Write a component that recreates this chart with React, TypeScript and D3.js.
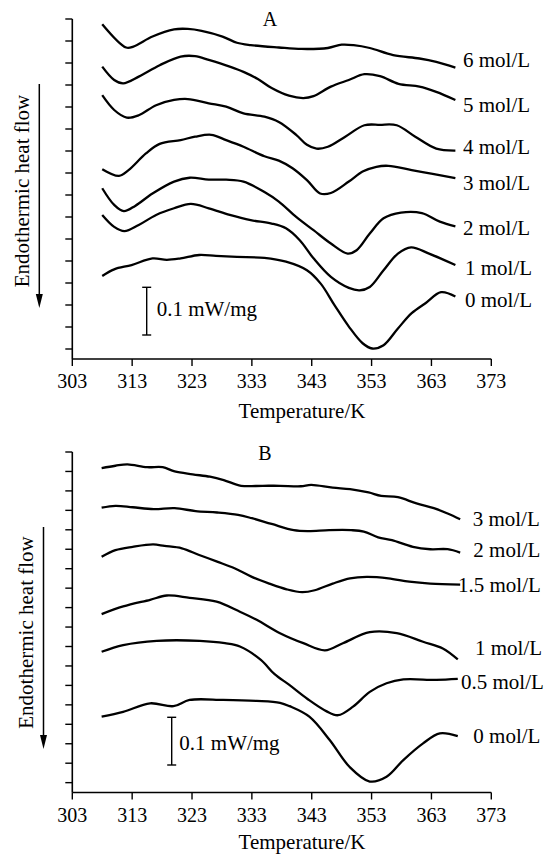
import React from "react";
import * as d3 from "d3";

type P = [number, number];

// ---------- Panel A data (Temperature K, heat flow mW/mg offset) ----------
const a6: P[] = [[308.0,0.702],[312.0,0.653],[313.2,0.655],[316.4,0.676],[320.0,0.691],[322.3,0.692],[324.6,0.688],[328.1,0.676],[330.5,0.663],[332.8,0.658],[337.5,0.653],[341.3,0.650],[345.7,0.652],[348.0,0.659],[350.0,0.658],[352.7,0.652],[356.6,0.637],[361.0,0.630],[363.8,0.623],[367.0,0.611]];
const a5: P[] = [[308.0,0.613],[310.0,0.585],[311.5,0.578],[314.1,0.592],[317.6,0.616],[321.1,0.634],[323.5,0.635],[325.8,0.627],[329.3,0.613],[331.6,0.602],[334.0,0.587],[336.3,0.568],[339.2,0.552],[341.6,0.547],[343.3,0.551],[346.2,0.571],[349.2,0.585],[351.8,0.597],[354.4,0.593],[357.5,0.577],[361.0,0.571],[363.8,0.560],[367.0,0.543]];
const a4: P[] = [[308.0,0.553],[310.0,0.522],[312.1,0.506],[314.1,0.511],[317.0,0.532],[320.0,0.543],[322.3,0.545],[325.8,0.536],[328.7,0.529],[331.6,0.515],[335.1,0.508],[337.5,0.497],[340.4,0.470],[342.2,0.449],[343.8,0.441],[345.7,0.445],[348.6,0.466],[351.8,0.490],[354.4,0.491],[357.2,0.490],[360.3,0.466],[363.8,0.441],[367.0,0.437]];
const a3: P[] = [[308.0,0.398],[310.8,0.384],[312.4,0.396],[315.3,0.431],[317.6,0.451],[321.1,0.459],[323.5,0.466],[326.2,0.470],[328.7,0.459],[331.6,0.445],[335.1,0.425],[337.5,0.416],[339.8,0.400],[342.2,0.375],[344.4,0.347],[346.2,0.348],[349.2,0.372],[351.5,0.393],[353.8,0.403],[355.8,0.405],[359.7,0.396],[363.2,0.388],[367.0,0.379]];
const a2: P[] = [[308.0,0.358],[310.0,0.323],[311.6,0.310],[313.5,0.321],[316.4,0.347],[320.0,0.372],[322.6,0.380],[325.8,0.376],[328.7,0.376],[331.6,0.372],[335.1,0.350],[337.5,0.330],[340.4,0.298],[343.3,0.270],[346.2,0.242],[349.0,0.221],[350.5,0.228],[352.7,0.263],[355.0,0.295],[357.9,0.307],[361.4,0.306],[364.4,0.288],[367.0,0.278]];
const a1: P[] = [[308.0,0.302],[310.0,0.277],[311.7,0.268],[314.1,0.281],[317.0,0.302],[320.0,0.316],[322.8,0.325],[325.8,0.316],[329.3,0.302],[332.8,0.291],[336.3,0.284],[338.7,0.274],[341.0,0.249],[343.3,0.211],[346.2,0.172],[349.2,0.149],[351.0,0.144],[352.7,0.151],[355.0,0.186],[357.4,0.221],[359.6,0.234],[362.6,0.221],[367.0,0.197]];
const a0: P[] = [[308.0,0.174],[310.0,0.188],[312.9,0.197],[316.4,0.211],[318.8,0.208],[321.1,0.211],[324.2,0.218],[327.0,0.216],[330.5,0.214],[335.1,0.212],[338.7,0.204],[342.2,0.186],[344.5,0.158],[346.8,0.113],[349.2,0.068],[351.5,0.033],[353.1,0.022],[355.0,0.029],[357.4,0.064],[359.7,0.096],[362.0,0.117],[364.6,0.140],[367.0,0.131]];

// ---------- Panel B data ----------
const b3: P[] = [[307.9,0.680],[310.2,0.685],[312.2,0.688],[315.5,0.682],[318.1,0.682],[320.1,0.673],[323.1,0.667],[326.0,0.662],[328.3,0.655],[331.2,0.643],[334.8,0.643],[337.7,0.643],[341.2,0.642],[342.9,0.645],[346.5,0.639],[349.4,0.636],[352.5,0.629],[354.6,0.622],[357.4,0.619],[360.5,0.606],[363.4,0.596],[365.7,0.585],[367.8,0.573]];
const b2: P[] = [[307.9,0.597],[310.2,0.601],[313.1,0.598],[316.6,0.594],[320.1,0.596],[323.6,0.590],[327.2,0.587],[330.7,0.582],[333.0,0.575],[336.3,0.563],[340.0,0.550],[342.4,0.548],[345.9,0.550],[349.6,0.550],[351.7,0.547],[354.1,0.535],[356.4,0.529],[359.9,0.515],[362.8,0.510],[365.7,0.510],[367.8,0.503]];
const b15: P[] = [[307.9,0.494],[310.2,0.508],[313.1,0.515],[316.5,0.520],[318.4,0.517],[321.3,0.512],[324.2,0.498],[327.2,0.484],[330.1,0.470],[333.0,0.452],[335.9,0.438],[338.8,0.426],[341.4,0.420],[343.5,0.424],[346.5,0.438],[349.4,0.449],[352.2,0.452],[355.8,0.449],[359.3,0.442],[362.8,0.438],[367.8,0.436]];
const b1: P[] = [[307.9,0.374],[311.5,0.390],[316.0,0.404],[318.8,0.413],[322.6,0.408],[327.1,0.400],[331.0,0.379],[333.8,0.362],[337.7,0.334],[341.6,0.313],[345.2,0.298],[348.2,0.313],[352.7,0.336],[357.2,0.334],[361.6,0.316],[364.9,0.302],[367.4,0.279]];
const b05: P[] = [[307.9,0.295],[311.5,0.309],[317.1,0.318],[324.3,0.318],[328.5,0.313],[331.0,0.306],[334.5,0.278],[336.8,0.248],[339.2,0.226],[342.3,0.196],[345.5,0.170],[347.4,0.162],[349.9,0.180],[352.7,0.211],[355.5,0.229],[358.3,0.237],[363.8,0.236],[367.4,0.238]];
const b0: P[] = [[307.9,0.159],[311.5,0.169],[316.0,0.187],[319.9,0.181],[322.6,0.194],[328.2,0.194],[333.8,0.192],[337.7,0.188],[339.3,0.181],[342.6,0.159],[346.0,0.110],[349.3,0.054],[352.7,0.023],[355.5,0.033],[358.3,0.068],[361.6,0.103],[364.4,0.124],[367.4,0.118]];

const seriesA = [a6, a5, a4, a3, a2, a1, a0];
const seriesB = [b3, b2, b15, b1, b05, b0];
const labelsA = ["6 mol/L", "5 mol/L", "4 mol/L", "3 mol/L", "2 mol/L", "1 mol/L", "0 mol/L"];
const labelsB = ["3 mol/L", "2 mol/L", "1.5 mol/L", "1 mol/L", "0.5 mol/L", "0 mol/L"];
const xTicks = [303, 313, 323, 333, 343, 353, 363, 373];
const xDomain: [number, number] = [303, 373];
const scaleBarValue = 0.1; // mW/mg

// ---------- layout ----------
const FONT = "'Liberation Serif','Times New Roman',serif";
const panels = [
  {
    letter: "A", series: seriesA, labels: labelsA,
    top: 19, bottom: 359, left: 72.3, right: 491.3,
    yTickCount: 16, yTickStepPx: 22,
    letterX: 270, letterY: 25.7,
    labelX: [463, 463, 463, 463, 463, 465, 465],
    labelY: [67.3, 111.7, 154.3, 190, 235, 275, 307.3],
    barX: 146.7, barY0: 335, labelTextX: 156.7, barTextY: 315.7,
    arrowX: 39.3, arrowY0: 84, arrowY1: 308,
    yTitleX: 29, yTitleY: 191,
    tickLabelY: 388, xTitleX: 302, xTitleY: 418,
  },
  {
    letter: "B", series: seriesB, labels: labelsB,
    top: 452, bottom: 792.5, left: 72.3, right: 491.3,
    yTickCount: 18, yTickStepPx: 19.45,
    letterX: 265, letterY: 460,
    labelX: [472.7, 473.3, 458, 475, 461, 473.3],
    labelY: [526, 557.3, 591.7, 655, 689.3, 743.3],
    barX: 171.7, barY0: 765, labelTextX: 179.3, barTextY: 750,
    arrowX: 43.5, arrowY0: 527, arrowY1: 749,
    yTitleX: 33, yTitleY: 632.5,
    tickLabelY: 821.5, xTitleX: 302, xTitleY: 849,
  },
];

const PX_PER_UNIT = 477; // px per mW/mg, from scale bar

function Panel({ p }: { p: (typeof panels)[number] }) {
  const x = d3.scaleLinear().domain(xDomain).range([p.left, p.right]);
  const yMax = (p.bottom - p.top) / PX_PER_UNIT;
  const y = d3.scaleLinear().domain([0, yMax]).range([p.bottom, p.top]);
  const step = p.yTickStepPx / PX_PER_UNIT;
  const yTicks = d3.range(p.yTickCount).map((k) => yMax - k * step);
  const line = d3
    .line<P>()
    .x((d) => x(d[0]))
    .y((d) => y(d[1]))
    .curve(d3.curveCatmullRom.alpha(0.5));
  const barV0 = y.invert(p.barY0);
  const by0 = y(barV0);
  const by1 = y(barV0 + scaleBarValue);
  return (
    <g fontFamily={FONT} fill="#000">
      {/* axes */}
      <line x1={p.left} x2={p.left} y1={p.top} y2={p.bottom} stroke="#000" strokeWidth={1.6} />
      <line x1={p.left} x2={p.right} y1={p.bottom} y2={p.bottom} stroke="#000" strokeWidth={1.6} />
      {yTicks.map((t, i) => (
        <line key={"yt" + i} x1={p.left - 7} x2={p.left} y1={y(t)} y2={y(t)} stroke="#000" strokeWidth={1.4} />
      ))}
      {xTicks.map((t) => (
        <g key={"xt" + t}>
          <line x1={x(t)} x2={x(t)} y1={p.bottom} y2={p.bottom + 7} stroke="#000" strokeWidth={1.4} />
          <text x={x(t)} y={p.tickLabelY} fontSize={20} textAnchor="middle">{t}</text>
        </g>
      ))}
      <text x={p.xTitleX} y={p.xTitleY} fontSize={21} textAnchor="middle">Temperature/K</text>
      <text
        transform={`translate(${p.yTitleX},${p.yTitleY}) rotate(-90)`}
        fontSize={21}
        textAnchor="middle"
      >
        Endothermic heat flow
      </text>
      {/* arrow */}
      <line x1={p.arrowX} x2={p.arrowX} y1={p.arrowY0} y2={p.arrowY1 - 12} stroke="#000" strokeWidth={1.5} />
      <path
        d={`M${p.arrowX - 3.5},${p.arrowY1 - 14} L${p.arrowX + 3.5},${p.arrowY1 - 14} L${p.arrowX},${p.arrowY1} Z`}
        fill="#000"
      />
      <text x={p.letterX} y={p.letterY} fontSize={20} textAnchor="middle">{p.letter}</text>
      {/* curves */}
      {p.series.map((s, i) => (
        <path key={"s" + i} d={line(s) || ""} fill="none" stroke="#000" strokeWidth={2.3} strokeLinejoin="round" />
      ))}
      {p.labels.map((l, i) => (
        <text key={"l" + i} x={p.labelX[i]} y={p.labelY[i]} fontSize={21}>{l}</text>
      ))}
      {/* scale bar */}
      <line x1={p.barX} x2={p.barX} y1={by0} y2={by1} stroke="#000" strokeWidth={1.4} />
      <line x1={p.barX - 4.5} x2={p.barX + 4.5} y1={by0} y2={by0} stroke="#000" strokeWidth={1.4} />
      <line x1={p.barX - 4.5} x2={p.barX + 4.5} y1={by1} y2={by1} stroke="#000" strokeWidth={1.4} />
      <text x={p.labelTextX} y={p.barTextY} fontSize={21}>0.1 mW/mg</text>
    </g>
  );
}

export default function App() {
  return (
    <svg
      width={546}
      height={856}
      viewBox="0 0 546 856"
      style={{ position: "absolute", left: 0, top: 0, background: "#fff" }}
    >
      <rect width={546} height={856} fill="#fff" />
      {panels.map((p) => (
        <Panel key={p.letter} p={p} />
      ))}
    </svg>
  );
}
